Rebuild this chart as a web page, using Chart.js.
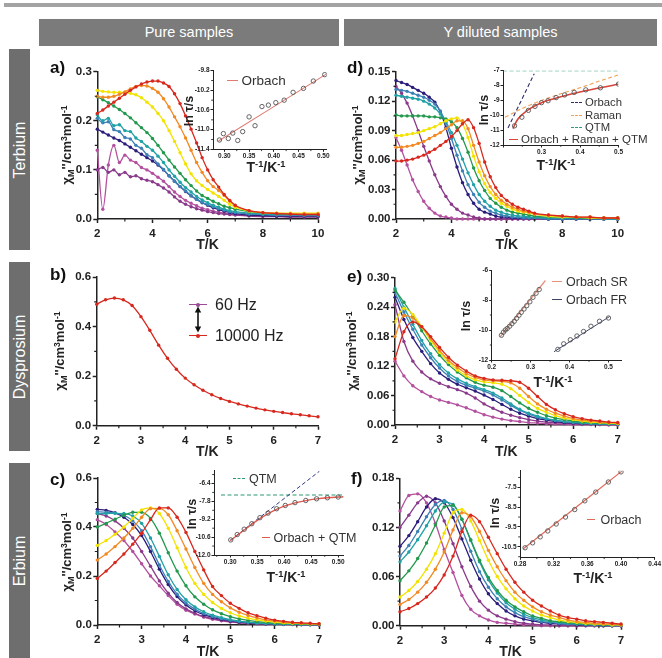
<!DOCTYPE html>
<html><head><meta charset="utf-8">
<script src="https://cdn.jsdelivr.net/npm/chart.js@4.4.1/dist/chart.umd.min.js"></script>
<style>
html,body{margin:0;padding:0;background:#fff;}
#root{position:relative;width:662px;height:658px;overflow:hidden;font-family:"Liberation Sans",Arial,sans-serif;color:#222;}
.sup{font-size:0.66em;position:relative;top:-0.5em;}
.sub{font-size:0.7em;position:relative;top:0.28em;}
</style></head><body><div id="root"></div>
<script>
// ---------- DATA ----------
const T10=[2.0,2.2,2.4,2.6,2.8,3.0,3.2,3.4,3.6,3.8,4.0,4.2,4.4,4.6,4.8,5.0,5.2,5.4,5.6,5.8,6.0,6.2,6.4,6.6,6.8,7.0,7.5,8.0,8.5,9.0,9.5,10.0];
const T7=[2.0,2.2,2.4,2.6,2.8,3.0,3.2,3.4,3.6,3.8,4.0,4.2,4.4,4.6,4.8,5.0,5.2,5.4,5.6,5.8,6.0,6.2,6.4,6.6,6.8,7.0];

// a) Tb pure
const aC1=[0.14,0.02,0.11,0.15,0.115,0.13,0.12,0.115,0.105,0.1,0.093,0.085,0.077,0.066,0.055,0.046,0.038,0.032,0.027,0.022,0.019,0.016,0.014,0.012,0.01,0.009,0.007,0.006,0.006,0.005,0.005,0.005];
const aC2=[0.1,0.105,0.095,0.1,0.09,0.095,0.086,0.088,0.082,0.079,0.076,0.07,0.063,0.055,0.045,0.036,0.03,0.025,0.021,0.018,0.015,0.013,0.011,0.01,0.009,0.008,0.006,0.005,0.005,0.004,0.004,0.004];
const aC3=[0.183,0.177,0.171,0.165,0.16,0.153,0.146,0.139,0.132,0.125,0.118,0.11,0.1,0.088,0.077,0.066,0.056,0.047,0.04,0.033,0.028,0.023,0.019,0.016,0.013,0.011,0.008,0.007,0.006,0.006,0.006,0.006];
const aC4=[0.205,0.196,0.198,0.182,0.178,0.166,0.163,0.15,0.144,0.131,0.125,0.112,0.101,0.088,0.077,0.066,0.057,0.048,0.04,0.034,0.029,0.025,0.021,0.018,0.015,0.013,0.01,0.009,0.008,0.008,0.007,0.007];
const aC5=[0.212,0.2,0.205,0.19,0.192,0.18,0.178,0.165,0.158,0.148,0.14,0.128,0.115,0.1,0.087,0.075,0.064,0.055,0.046,0.039,0.033,0.028,0.024,0.02,0.017,0.015,0.012,0.01,0.009,0.009,0.008,0.008];
const aC6=[0.249,0.243,0.237,0.23,0.223,0.215,0.206,0.196,0.186,0.176,0.164,0.15,0.135,0.12,0.106,0.093,0.08,0.068,0.057,0.048,0.042,0.036,0.031,0.026,0.023,0.02,0.015,0.012,0.011,0.01,0.01,0.01];
const aC7=[0.262,0.26,0.259,0.258,0.258,0.258,0.256,0.253,0.247,0.238,0.228,0.215,0.2,0.18,0.158,0.135,0.112,0.092,0.078,0.068,0.06,0.053,0.046,0.038,0.03,0.024,0.016,0.013,0.012,0.012,0.012,0.012];
const aC8=[0.25,0.248,0.248,0.25,0.254,0.259,0.265,0.27,0.272,0.271,0.266,0.258,0.245,0.228,0.208,0.188,0.165,0.14,0.115,0.095,0.078,0.066,0.058,0.048,0.036,0.027,0.017,0.013,0.012,0.011,0.011,0.011];
const aC9=[0.215,0.222,0.23,0.238,0.246,0.254,0.262,0.269,0.275,0.279,0.281,0.281,0.277,0.27,0.255,0.235,0.21,0.183,0.155,0.125,0.1,0.08,0.065,0.05,0.038,0.028,0.017,0.013,0.011,0.01,0.009,0.009];

// d) Tb diluted
const dC1=[0.083,0.07,0.055,0.04,0.028,0.018,0.011,0.006,0.003,0.002,0.001,0,0,0,0,0,0,0,0,0,0,0,0,0,0,0,0,0,0,0,0,0];
const dC2=[0.135,0.128,0.118,0.105,0.09,0.074,0.059,0.045,0.033,0.023,0.015,0.01,0.006,0.004,0.002,0.001,0,0,0,0,0,0,0,0,0,0,0,0,0,0,0,0];
const dC3=[0.141,0.139,0.137,0.134,0.131,0.128,0.124,0.119,0.109,0.093,0.072,0.053,0.037,0.025,0.016,0.01,0.007,0.005,0.003,0.002,0.002,0.001,0.001,0.001,0.001,0.001,0,0,0,0,0,0];
const dC4=[0.132,0.131,0.13,0.128,0.126,0.124,0.121,0.117,0.11,0.098,0.082,0.065,0.049,0.035,0.025,0.017,0.012,0.008,0.006,0.004,0.003,0.002,0.002,0.001,0.001,0.001,0,0,0,0,0,0];
const dC5=[0.126,0.125,0.124,0.123,0.122,0.12,0.117,0.113,0.107,0.099,0.088,0.075,0.061,0.047,0.035,0.025,0.018,0.013,0.009,0.007,0.005,0.004,0.003,0.003,0.002,0.002,0.001,0.001,0.001,0.001,0,0];
const dC6=[0.106,0.105,0.105,0.105,0.105,0.105,0.104,0.104,0.103,0.102,0.099,0.093,0.082,0.068,0.052,0.039,0.029,0.021,0.016,0.012,0.009,0.007,0.006,0.005,0.004,0.003,0.002,0.002,0.001,0.001,0.001,0.001];
const dC7=[0.085,0.085,0.086,0.087,0.088,0.09,0.092,0.094,0.097,0.1,0.102,0.103,0.097,0.083,0.064,0.048,0.036,0.027,0.021,0.016,0.013,0.01,0.008,0.007,0.006,0.005,0.003,0.002,0.002,0.001,0.001,0.001];
const dC8=[0.073,0.073,0.074,0.075,0.077,0.079,0.082,0.085,0.088,0.092,0.096,0.1,0.1,0.092,0.075,0.058,0.044,0.033,0.025,0.019,0.015,0.012,0.01,0.008,0.007,0.005,0.004,0.003,0.002,0.002,0.001,0.001];
const dC9=[0.059,0.059,0.06,0.061,0.063,0.065,0.068,0.071,0.075,0.079,0.084,0.09,0.097,0.101,0.093,0.077,0.058,0.043,0.032,0.024,0.019,0.015,0.012,0.01,0.008,0.006,0.004,0.003,0.002,0.002,0.001,0.001];

// b) Dy pure
const bY=[0.49,0.508,0.515,0.508,0.485,0.44,0.385,0.325,0.272,0.228,0.192,0.165,0.143,0.125,0.11,0.098,0.088,0.079,0.071,0.064,0.058,0.053,0.048,0.044,0.04,0.036];

// e) Dy diluted
const eC1=[0.13,0.1,0.08,0.068,0.058,0.051,0.046,0.041,0.035,0.028,0.021,0.016,0.012,0.009,0.007,0.005,0.004,0.003,0.002,0.002,0.001,0.001,0.001,0.001,0,0];
const eC2=[0.245,0.17,0.13,0.108,0.094,0.085,0.078,0.072,0.065,0.055,0.043,0.034,0.026,0.02,0.015,0.011,0.008,0.006,0.005,0.004,0.003,0.002,0.002,0.001,0.001,0.001];
const eC3=[0.26,0.215,0.178,0.15,0.125,0.106,0.093,0.083,0.076,0.069,0.061,0.052,0.042,0.032,0.024,0.018,0.013,0.01,0.007,0.005,0.004,0.003,0.003,0.002,0.002,0.001];
const eC4=[0.27,0.23,0.195,0.163,0.137,0.116,0.1,0.089,0.081,0.075,0.069,0.061,0.051,0.04,0.03,0.022,0.016,0.012,0.009,0.007,0.005,0.004,0.003,0.002,0.002,0.002];
const eC5=[0.278,0.24,0.205,0.172,0.145,0.123,0.106,0.094,0.085,0.078,0.072,0.065,0.055,0.043,0.032,0.024,0.018,0.013,0.01,0.007,0.006,0.004,0.003,0.003,0.002,0.002];
const eC6=[0.275,0.25,0.222,0.192,0.165,0.142,0.123,0.108,0.096,0.087,0.081,0.077,0.07,0.058,0.045,0.034,0.026,0.019,0.014,0.011,0.008,0.006,0.005,0.004,0.003,0.003];
const eC7=[0.21,0.238,0.225,0.2,0.172,0.148,0.128,0.112,0.1,0.092,0.088,0.086,0.083,0.074,0.06,0.046,0.034,0.026,0.019,0.014,0.011,0.008,0.006,0.005,0.004,0.003];
const eC8=[0.18,0.223,0.218,0.2,0.176,0.152,0.132,0.117,0.105,0.097,0.092,0.09,0.089,0.086,0.075,0.058,0.043,0.032,0.024,0.018,0.013,0.01,0.008,0.006,0.005,0.004];
const eC9=[0.135,0.19,0.21,0.2,0.18,0.158,0.138,0.122,0.11,0.1,0.095,0.092,0.091,0.09,0.087,0.075,0.058,0.042,0.031,0.023,0.017,0.013,0.01,0.008,0.006,0.005];

// c) Er pure
const cC1=[0.43,0.41,0.38,0.345,0.3,0.25,0.2,0.16,0.12,0.085,0.06,0.045,0.032,0.023,0.017,0.012,0.009,0.007,0.005,0.004,0.003,0.002,0.002,0.001,0.001,0.001];
const cC2=[0.455,0.445,0.425,0.395,0.355,0.3,0.24,0.18,0.13,0.092,0.066,0.048,0.035,0.026,0.019,0.014,0.01,0.008,0.006,0.004,0.003,0.003,0.002,0.002,0.001,0.001];
const cC3=[0.472,0.468,0.458,0.44,0.41,0.365,0.3,0.228,0.165,0.116,0.082,0.058,0.042,0.031,0.023,0.017,0.012,0.009,0.007,0.005,0.004,0.003,0.003,0.002,0.002,0.001];
const cC4=[0.462,0.46,0.457,0.448,0.425,0.385,0.32,0.245,0.178,0.126,0.09,0.065,0.047,0.035,0.026,0.019,0.014,0.011,0.008,0.006,0.005,0.004,0.003,0.002,0.002,0.002];
const cC5=[0.455,0.455,0.456,0.455,0.445,0.415,0.355,0.28,0.205,0.145,0.103,0.074,0.054,0.04,0.03,0.022,0.016,0.012,0.009,0.007,0.005,0.004,0.003,0.003,0.002,0.002];
const cC6=[0.4,0.415,0.432,0.448,0.46,0.46,0.435,0.375,0.295,0.22,0.16,0.115,0.085,0.062,0.046,0.034,0.025,0.019,0.014,0.011,0.008,0.006,0.005,0.004,0.003,0.003];
const cC7=[0.325,0.345,0.37,0.4,0.435,0.47,0.478,0.455,0.395,0.315,0.235,0.17,0.125,0.092,0.068,0.05,0.037,0.028,0.021,0.016,0.012,0.009,0.007,0.006,0.005,0.004];
const cC8=[0.265,0.29,0.32,0.355,0.395,0.44,0.475,0.476,0.45,0.385,0.31,0.235,0.17,0.125,0.095,0.07,0.052,0.039,0.029,0.021,0.016,0.012,0.009,0.007,0.006,0.005];
const cC9=[0.19,0.22,0.255,0.29,0.33,0.375,0.43,0.478,0.478,0.44,0.378,0.3,0.225,0.157,0.12,0.089,0.068,0.05,0.038,0.028,0.02,0.015,0.011,0.009,0.007,0.005];

// f) Er diluted
const fC1=[0.14,0.159,0.161,0.15,0.125,0.093,0.065,0.037,0.02,0.012,0.007,0.004,0.003,0.002,0.001,0.001,0,0,0,0,0,0,0,0,0,0];
const fC2=[0.12,0.135,0.15,0.158,0.15,0.128,0.1,0.072,0.048,0.03,0.019,0.012,0.008,0.005,0.003,0.002,0.001,0.001,0,0,0,0,0,0,0,0];
const fC3=[0.097,0.11,0.127,0.145,0.155,0.15,0.132,0.106,0.08,0.057,0.039,0.027,0.018,0.012,0.008,0.006,0.004,0.003,0.002,0.002,0.001,0.001,0.001,0,0,0];
const fC4=[0.085,0.098,0.115,0.133,0.148,0.153,0.142,0.118,0.091,0.066,0.047,0.033,0.023,0.016,0.011,0.008,0.005,0.004,0.003,0.002,0.002,0.001,0.001,0.001,0,0];
const fC5=[0.078,0.09,0.105,0.122,0.14,0.151,0.148,0.13,0.104,0.078,0.056,0.04,0.028,0.02,0.014,0.01,0.007,0.005,0.004,0.003,0.002,0.002,0.001,0.001,0.001,0.001];
const fC6=[0.055,0.067,0.082,0.101,0.123,0.145,0.147,0.13,0.105,0.08,0.059,0.043,0.031,0.023,0.017,0.012,0.009,0.006,0.005,0.004,0.003,0.002,0.002,0.001,0.001,0.001];
const fC7=[0.035,0.043,0.054,0.069,0.088,0.113,0.138,0.142,0.128,0.104,0.08,0.06,0.045,0.033,0.024,0.018,0.013,0.01,0.007,0.005,0.004,0.003,0.002,0.002,0.001,0.001];
const fC8=[0.026,0.032,0.041,0.053,0.069,0.09,0.117,0.138,0.133,0.115,0.092,0.072,0.055,0.041,0.031,0.023,0.017,0.013,0.01,0.007,0.005,0.004,0.003,0.002,0.002,0.001];
const fC9=[0.017,0.021,0.027,0.035,0.046,0.062,0.085,0.115,0.135,0.127,0.108,0.088,0.069,0.053,0.041,0.031,0.024,0.018,0.013,0.01,0.008,0.006,0.005,0.004,0.003,0.002];

// insets: ln(tau) vs 1/T
const aInvT=[0.290,0.298,0.308,0.317,0.327,0.337,0.350,0.362,0.376,0.389,0.404,0.421,0.439,0.460,0.480,0.503];
const aLnTau=[-11.21,-11.08,-11.18,-11.07,-11.22,-11.04,-10.74,-10.92,-10.53,-10.50,-10.45,-10.40,-10.24,-10.16,-10.01,-9.88];
const aFitX=[0.288,0.506], aFitY=[-11.23,-9.87];

const dInvT=[0.230,0.249,0.266,0.283,0.300,0.317,0.338,0.360,0.385,0.415,0.453,0.500];
const dLnTau=[-10.71,-10.13,-9.67,-9.40,-9.15,-9.02,-8.81,-8.63,-8.46,-8.29,-8.15,-7.90];
const dOrbX=[0.213,0.281], dOrbY=[-10.85,-7.21];
const dRamX=[0.205,0.25,0.30,0.35,0.40,0.45,0.50], dRamY=[-10.13,-9.55,-9.0,-8.55,-8.15,-7.7,-7.28];
const dQtmX=[0.2,0.5], dQtmY=[-7.0,-7.0];
const dFitX=[0.226,0.235,0.25,0.27,0.30,0.33,0.36,0.40,0.45,0.50], dFitY=[-10.9,-10.4,-9.95,-9.55,-9.15,-8.9,-8.68,-8.43,-8.17,-7.9];

const eSRx=[0.225,0.230,0.235,0.240,0.246,0.252,0.258,0.264,0.270,0.276,0.283,0.290,0.298,0.306,0.314,0.322];
const eSRy=[-10.35,-10.15,-10.0,-9.9,-9.75,-9.58,-9.42,-9.22,-9.02,-8.82,-8.6,-8.38,-8.12,-7.82,-7.55,-7.3];
const eSRfitX=[0.222,0.338], eSRfitY=[-10.45,-6.7];
const eFRx=[0.370,0.385,0.402,0.419,0.436,0.455,0.477,0.500];
const eFRy=[-11.29,-10.92,-10.65,-10.4,-10.1,-9.75,-9.42,-9.2];
const eFRfitX=[0.36,0.503], eFRfitY=[-11.45,-9.1];

const cInvT=[0.301,0.313,0.326,0.340,0.355,0.370,0.386,0.402,0.420,0.440,0.460,0.480,0.500];
const cLnTau=[-10.82,-10.4,-9.98,-9.55,-9.08,-8.72,-8.38,-8.12,-7.9,-7.73,-7.6,-7.52,-7.46];
const cOrbX=[0.30,0.465], cOrbY=[-10.85,-5.45];
const cQtmX=[0.283,0.51], cQtmY=[-7.3,-7.3];
const cFitX=[0.30,0.32,0.34,0.36,0.38,0.40,0.42,0.44,0.46,0.48,0.51], cFitY=[-10.88,-10.24,-9.6,-9.02,-8.55,-8.18,-7.92,-7.74,-7.61,-7.52,-7.44];

const fInvT=[0.286,0.295,0.304,0.313,0.323,0.334,0.345,0.357,0.370,0.385,0.400];
const fLnTau=[-10.55,-10.3,-10.0,-9.7,-9.35,-9.0,-8.62,-8.18,-7.74,-7.23,-6.72];
const fFitX=[0.284,0.401], fFitY=[-10.6,-6.68];

// tick labels
const xTicks10=[2,4,6,8,10], xTicks7=[2,3,4,5,6,7];
const yTicksA=[0,0.1,0.2,0.3], yTicksD=[0,0.03,0.06,0.09,0.12,0.15], yTicksB=[0,0.2,0.4,0.6];
const yTicksE=[0,0.06,0.12,0.18,0.24,0.30], yTicksC=[0,0.2,0.4,0.6], yTicksF=[0,0.06,0.12,0.18];

const COLORS=['#b3509f','#8a3a8a','#2b1d7c','#3d80b6','#20a2a6','#23994e','#f2e300','#f28a24','#d8281e'];

// ---------- HELPERS ----------
const FF='"Liberation Sans", Arial, sans-serif';
Chart.defaults.font.family=FF;
const root=document.getElementById('root');
function el(css,html){const e=document.createElement('div');e.style.cssText='position:absolute;'+css;if(html!==undefined)e.innerHTML=html;root.appendChild(e);return e;}
function text(html,x,y,css,ax){const tr=ax==='l'?'translate(0,-50%)':'translate(-50%,-50%)';return el(`left:${x}px;top:${y}px;white-space:nowrap;line-height:1;transform:${tr};${css||''}`,html);}
function vtext(html,x,y,css){return el(`left:${x}px;top:${y}px;white-space:nowrap;line-height:1;transform:translate(-50%,-50%) rotate(-90deg);${css||''}`,html);}
function legLine(x1,x2,y,color,dashed,w){w=w||1.5;el(`left:${x1}px;top:${y-w/2}px;width:${x2-x1}px;height:0;border-top:${w}px ${dashed?'dashed':'solid'} ${color};`);}

const minorPlugin={id:'minor',afterDraw(chart,args,o){const ctx=chart.ctx;ctx.save();ctx.strokeStyle='#222';ctx.lineWidth=o.w||1;ctx.beginPath();
  const xs=chart.scales.x,ys=chart.scales.y;
  (o.x||[]).forEach(v=>{const p=xs.getPixelForValue(v);ctx.moveTo(p,xs.top);ctx.lineTo(p,xs.top+o.len);});
  (o.y||[]).forEach(v=>{const p=ys.getPixelForValue(v);ctx.moveTo(ys.right,p);ctx.lineTo(ys.right-o.len,p);});
  ctx.stroke();ctx.restore();}};

function mkScale(isX,min,max,ticks,fmt,font,tl,pad,bw){
  return {type:'linear',min,max,
    afterBuildTicks:s=>{s.ticks=ticks.map(v=>({value:v}));},
    ticks:{callback:v=>fmt(v),font,color:'#222',padding:pad,autoSkip:false,maxRotation:0,minRotation:0},
    grid:{display:true,drawOnChartArea:false,drawTicks:true,tickLength:tl,tickColor:'#222',tickWidth:bw},
    border:{display:true,color:'#222',width:bw}};
}
function mkChart(r,ywN,ptN,prN,xhN,xs,ys,datasets,minor){
  const cx=Math.floor(r.L-ywN), cy=Math.floor(r.T-ptN);
  const cw=Math.min(Math.ceil(r.R+prN-cx),662-cx), ch=Math.ceil(r.B+xhN-cy);
  const yw=r.L-cx, pt=r.T-cy, pr=cx+cw-r.R, xh=cy+ch-r.B;
  const c=document.createElement('canvas');c.width=cw;c.height=ch;
  c.style.cssText=`position:absolute;left:${cx}px;top:${cy}px;width:${cw}px;height:${ch}px;`;root.appendChild(c);
  xs.afterFit=s=>{s.height=xh;}; ys.afterFit=s=>{s.width=yw;};
  new Chart(c,{type:'line',data:{datasets},options:{responsive:false,animation:false,events:[],
    layout:{padding:{left:0,top:pt,right:pr,bottom:0}},
    plugins:{legend:{display:false},tooltip:{enabled:false},minor},
    scales:{x:xs,y:ys}},plugins:[minorPlugin]});
}
const MF={family:FF,size:11.5,weight:'bold'}, IF={family:FF,size:6.5,weight:'bold'};
function mainSets(xs,list,colors){return list.map((y,i)=>({data:xs.map((x,j)=>({x,y:y[j]})),borderColor:colors[i],backgroundColor:colors[i],pointBackgroundColor:colors[i],borderWidth:1.3,pointRadius:1.7,pointBorderWidth:0,cubicInterpolationMode:'monotone',clip:false,order:list.length-1-i}));}
function mainChart(r,xr,xt,xm,yr,yt,ym,yd,xs,list,colors){
  mkChart(r,46,14,16,22,
    mkScale(true,xr[0],xr[1],xt,v=>String(v),MF,4,4,1.5),
    mkScale(false,yr[0],yr[1],yt,v=>v.toFixed(yd),MF,4,1.5,1.5),
    mainSets(xs,list,colors),{x:xm,y:ym,len:2.5,w:1.2});
}
function pts(xs,ys){return {data:xs.map((x,j)=>({x,y:ys[j]})),showLine:false,pointRadius:2.2,pointBorderWidth:0.9,pointBorderColor:'#555',pointBackgroundColor:'rgba(255,255,255,0)',borderColor:'#555',backgroundColor:'rgba(0,0,0,0)',order:0};}
function fit(xs,ys,color,dash,w,ord){return {data:xs.map((x,j)=>({x,y:ys[j]})),borderColor:color,backgroundColor:color,borderWidth:w||1.2,borderDash:dash||[],pointRadius:0,cubicInterpolationMode:'monotone',fill:false,order:ord||1};}
function insetChart(r,xr,xt,xm,xfmt,yr,yt,ym,yfmt,sets){
  mkChart(r,26,5,8,12,
    mkScale(true,xr[0],xr[1],xt,xfmt,IF,2.5,1,1),
    mkScale(false,yr[0],yr[1],yt,yfmt,IF,2.5,1,1),
    sets,{x:xm,y:ym,len:1.8,w:0.9});
}

// ---------- FRAME ----------
el('left:4px;top:3px;width:658px;height:4px;background:#a3a3a3;');
el('left:39px;top:19px;width:300px;height:27px;background:#7b7b7b;color:#fff;font-size:14.5px;line-height:27px;text-align:center;','Pure samples');
el('left:344px;top:19px;width:313px;height:27px;background:#7b7b7b;color:#fff;font-size:14.5px;line-height:27px;text-align:center;','Y diluted samples');
el('left:9px;top:49px;width:21px;height:201px;background:#6e6e6e;');
el('left:9px;top:262px;width:21px;height:189px;background:#6e6e6e;');
el('left:9px;top:463px;width:21px;height:195px;background:#6e6e6e;');
vtext('Terbium',19.5,149.5,'color:#fff;font-size:16px;');
vtext('Dysprosium',19.5,356.5,'color:#fff;font-size:16px;');
vtext('Erbium',19.5,560.5,'color:#fff;font-size:16px;');

// ---------- MAIN PANELS ----------
const RA={L:97.3,T:71.7,R:318,B:219}, RD={L:396,T:71.7,R:617.7,B:219};
const RB={L:96.7,T:277,R:318,B:425.7}, RE={L:395,T:277.7,R:617.7,B:425};
const RC={L:97.3,T:478,R:319,B:625}, RF={L:400,T:478.3,R:621,B:625.7};
const xm10=[3,5,7,9], xm7=[2.5,3.5,4.5,5.5,6.5];
mainChart(RA,[2,10],xTicks10,xm10,[0,0.3],yTicksA,[0.05,0.15,0.25],1,T10,[aC1,aC2,aC3,aC4,aC5,aC6,aC7,aC8,aC9],COLORS);
mainChart(RD,[2,10],xTicks10,xm10,[0,0.15],yTicksD,[0.015,0.045,0.075,0.105,0.135],2,T10,[dC1,dC2,dC3,dC4,dC5,dC6,dC7,dC8,dC9],COLORS);
mainChart(RB,[2,7],xTicks7,xm7,[0,0.6],yTicksB,[0.1,0.3,0.5],1,T7,[bY],['#d8281e']);
mainChart(RE,[2,7],xTicks7,xm7,[0,0.3],yTicksE,[0.03,0.09,0.15,0.21,0.27],2,T7,[eC1,eC2,eC3,eC4,eC5,eC6,eC7,eC8,eC9],COLORS);
mainChart(RC,[2,7],xTicks7,xm7,[0,0.6],yTicksC,[0.1,0.3,0.5],1,T7,[cC1,cC2,cC3,cC4,cC5,cC6,cC7,cC8,cC9],COLORS);
mainChart(RF,[2,7],xTicks7,xm7,[0,0.18],yTicksF,[0.03,0.09,0.15],2,T7,[fC1,fC2,fC3,fC4,fC5,fC6,fC7,fC8,fC9],COLORS);

// ---------- INSETS ----------
const f2=v=>v.toFixed(2), f1=v=>v.toFixed(1), f0=v=>v.toFixed(0);
insetChart({L:213,T:70.7,R:326.7,B:149.3},[0.277,0.507],[0.30,0.35,0.40,0.45,0.50],[0.325,0.375,0.425,0.475],f2,
  [-11.4,-9.8],[-11.4,-11.0,-10.6,-10.2,-9.8],[-11.2,-10.8,-10.4,-10.0],f1,
  [pts(aInvT,aLnTau),fit(aFitX,aFitY,'#e07a72',[],1.1)]);
insetChart({L:503,T:70.7,R:618.5,B:145},[0.2,0.5],[0.2,0.3,0.4,0.5],[0.25,0.35,0.45],v=>v===0.2?'':v.toFixed(1),
  [-12,-7],[-12,-11,-10,-9,-8,-7],[],f0,
  [pts(dInvT,dLnTau),fit(dFitX,dFitY,'#d9443a',[],1.6,1),fit(dOrbX,dOrbY,'#2d2d6b',[4,2.5],1.1,2),fit(dRamX,dRamY,'#f0a050',[4,2.5],1.1,3),fit(dQtmX,dQtmY,'#2a9a80',[4,2.5],1.1,4)]);
insetChart({L:491.7,T:270,R:621.7,B:360},[0.2,0.534],[0.2,0.3,0.4,0.5],[0.25,0.35,0.45],f1,
  [-12,-6],[-12,-10,-8,-6],[-11,-9,-7],f0,
  [pts(eSRx,eSRy),pts(eFRx,eFRy),fit(eSRfitX,eSRfitY,'#e8907a',[],1.2),fit(eFRfitX,eFRfitY,'#3c4468',[],1.0)]);
insetChart({L:214,T:470.7,R:343.6,B:555},[0.27,0.51],[0.30,0.35,0.40,0.45,0.50],[0.275,0.325,0.375,0.425,0.475],f2,
  [-12,-5.4],[-12,-10.6,-9.2,-7.8,-6.4],[-11.3,-9.9,-8.5,-7.1,-5.7],f1,
  [pts(cInvT,cLnTau),fit(cFitX,cFitY,'#e05a50',[],1.4,1),fit(cOrbX,cOrbY,'#2d3a80',[4,2.5],1.0,2),fit(cQtmX,cQtmY,'#2a9a70',[4,2.5],1.1,3)]);
insetChart({L:520,T:470.7,R:654.7,B:557.3},[0.28,0.44],[0.28,0.32,0.36,0.40,0.44],[0.30,0.34,0.38,0.42],f2,
  [-11.03,-6.66],[-10.5,-9.5,-8.5,-7.5],[-11,-10,-9,-8,-7],f1,
  [pts(fInvT,fLnTau),fit(fFitX,fFitY,'#e06a5a',[],1.2)]);

// ---------- TEXTS ----------
const PL='font-size:17px;font-weight:bold;color:#111;';
el(`left:50px;top:59px;line-height:1;${PL}`,'a)');
el(`left:347px;top:59px;line-height:1;${PL}`,'d)');
el(`left:50px;top:266px;line-height:1;${PL}`,'b)');
el(`left:347px;top:268px;line-height:1;${PL}`,'e)');
el(`left:50px;top:471px;line-height:1;${PL}`,'c)');
el(`left:351px;top:470px;line-height:1;${PL}`,'f)');
const YT="χ<span class='sub'>M</span>''/cm<span class='sup'>3</span>mol<span class='sup'>-1</span>";
const YS='font-size:13px;font-weight:bold;color:#222;';
vtext(YT,67,145.4,YS); vtext(YT,358,145.4,YS); vtext(YT,60,351.4,YS); vtext(YT,352,351.4,YS); vtext(YT,67,551.5,YS);
const XS='font-size:14px;font-weight:bold;color:#222;';
text('T/K',207.6,244,XS); text('T/K',506.8,244,XS); text('T/K',207.3,451,XS); text('T/K',506.3,451,XS); text('T/K',208,651,XS); text('T/K',510.5,651,XS);
const LT='ln τ/s', LS='font-size:12.5px;font-weight:bold;color:#222;';
vtext(LT,189,111,LS); vtext(LT,484,110,LS); vtext(LT,466,316,LS); vtext(LT,192,514,LS); vtext(LT,495,513,LS);
const IT="T<span class='sup'>-1</span>/K<span class='sup'>-1</span>", IS='font-size:14px;font-weight:bold;color:#222;';
text(IT,266,167,IS); text(IT,556,165,IS); text(IT,553,382,IS); text(IT,286,577,IS); text(IT,593,578,IS);

// inset legends
const LG='color:#333;';
legLine(227,238,81,'#e07a72',false,1.3); text('Orbach',241.5,81,LG+'font-size:13.5px;','l');
legLine(571,582,103,'#2d2d6b',true,1.3); text('Orbach',585,103,LG+'font-size:11.3px;','l');
legLine(571,582,115.5,'#f0a050',true,1.3); text('Raman',585,115.5,LG+'font-size:11.3px;','l');
legLine(571,582,128,'#2a9a80',true,1.3); text('QTM',585,128,LG+'font-size:11.3px;','l');
legLine(509,518,139.5,'#d9443a',false,1.6); text('Orbach + Raman + QTM',521,139.5,LG+'font-size:11.5px;','l');
legLine(552,562,282,'#e8907a',false,1.3); text('Orbach SR',566,282,LG+'font-size:12.5px;','l');
legLine(552,562,300,'#3c4468',false,1.2); text('Orbach FR',566,300,LG+'font-size:12.5px;','l');
legLine(233,245,478.5,'#2a9a70',true,1.3); text('QTM',249,478.5,LG+'font-size:12.5px;','l');
legLine(262,270,537.5,'#e05a50',false,1.4); text('Orbach + QTM',273.5,537.5,LG+'font-size:12.5px;','l');
legLine(587,595,520,'#e06a5a',false,1.3); text('Orbach',600.5,520,LG+'font-size:12.5px;','l');

// b legend
legLine(189,207,304.5,'#9c4a96',false,1.5); el('left:196px;top:302.5px;width:4px;height:4px;border-radius:50%;background:#9c4a96;');
legLine(189,207,335.5,'#d8281e',false,1.5); el('left:196px;top:333.5px;width:4px;height:4px;border-radius:50%;background:#d8281e;');
el('left:193px;top:306px;width:10px;height:27px;',"<svg width='10' height='27'><line x1='5' y1='3' x2='5' y2='24' stroke='#111' stroke-width='1.6'/><path d='M1.8,6.5 L5,0.5 L8.2,6.5 Z' fill='#111'/><path d='M1.8,20.5 L5,26.5 L8.2,20.5 Z' fill='#111'/></svg>");
text('60 Hz',215,305,'font-size:16px;color:#222;','l');
text('10000 Hz',215,336,'font-size:16px;color:#222;','l');
</script></body></html>
